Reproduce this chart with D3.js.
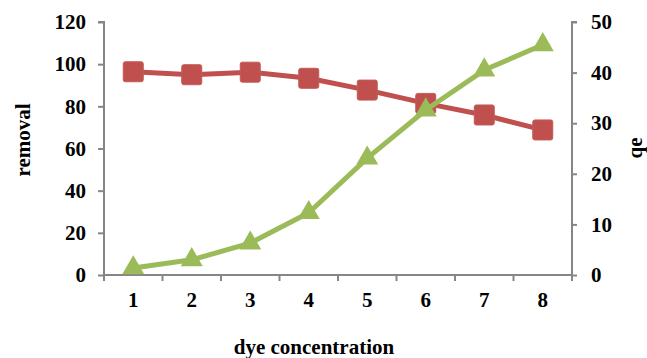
<!DOCTYPE html>
<html>
<head>
<meta charset="utf-8">
<script src="https://cdn.jsdelivr.net/npm/d3@7"></script>
<style>
  html, body { margin: 0; padding: 0; background: #fff; }
  svg { display: block; }
</style>
</head>
<body>
<svg id="chart" width="647" height="358"></svg>
<script>
// Dye concentration categories
const categories = ["1", "2", "3", "4", "5", "6", "7", "8"];
// Removal (%) on the left axis
const removal = [96.4, 95.0, 96.2, 93.3, 87.7, 81.4, 75.9, 68.8];
// qe on the right axis
const qe = [1.4, 3.0, 6.3, 12.3, 23.1, 32.6, 40.5, 45.5];
// Tick values for both value axes
const leftTicks = [0, 20, 40, 60, 80, 100, 120];
const rightTicks = [0, 10, 20, 30, 40, 50];

const svg = d3.select("#chart");
const plot = { left: 104, right: 572, top: 22, bottom: 275 };
const axisColor = "#868686";
const red = "#C0504D";
const green = "#9BBB59";
const serif = '"Liberation Serif", "Times New Roman", Tinos, serif';
const tickFont = 21;
const titleFont = 21;

const x = d3.scaleBand().domain(categories).range([plot.left, plot.right]).padding(0);
const yL = d3.scaleLinear().domain([0, 120]).range([plot.bottom, plot.top]);
const yR = d3.scaleLinear().domain([0, 50]).range([plot.bottom, plot.top]);
const cx = d => x(d) + x.bandwidth() / 2;

// Left axis
const gL = svg.append("g").attr("transform", `translate(${plot.left},0)`)
  .call(d3.axisLeft(yL).tickValues(leftTicks).tickSize(6).tickPadding(12));
// Right axis
const gR = svg.append("g").attr("transform", `translate(${plot.right},0)`)
  .call(d3.axisRight(yR).tickValues(rightTicks).tickSize(5).tickPadding(14));
// Bottom axis: labels centred in each category, ticks on category boundaries
const gB = svg.append("g").attr("transform", `translate(0,${plot.bottom})`)
  .call(d3.axisBottom(x).tickSize(0).tickPadding(17));
const bounds = d3.range(categories.length + 1).map(i => plot.left + i * x.step());
gB.selectAll("line.bound").data(bounds).join("line").attr("class", "bound")
  .attr("x1", d => d).attr("x2", d => d).attr("y1", 0).attr("y2", 6);

[gL, gR, gB].forEach(g => {
  g.attr("font-family", null).attr("font-size", null);
  g.selectAll("path.domain").attr("stroke", axisColor).attr("stroke-width", 2);
  g.selectAll("line").attr("stroke", axisColor).attr("stroke-width", 2);
  g.selectAll("text")
    .style("font-family", serif).style("font-weight", "bold")
    .style("font-size", tickFont + "px").attr("fill", "#000");
});
gL.select("path.domain").attr("d", `M-6,${plot.top}H0V${plot.bottom}`).attr("fill", "none");
gR.select("path.domain").attr("d", `M5,${plot.top}H0V${plot.bottom}`).attr("fill", "none");
gB.select("path.domain").attr("d", `M${plot.left},0H${plot.right}`).attr("fill", "none");

// Series lines
const lineL = d3.line().x((d, i) => cx(categories[i])).y(d => yL(d));
const lineR = d3.line().x((d, i) => cx(categories[i])).y(d => yR(d));

svg.append("path").datum(removal).attr("d", lineL)
  .attr("fill", "none").attr("stroke", red).attr("stroke-width", 5).attr("stroke-linejoin", "round");
svg.selectAll("rect.pt").data(removal).join("rect").attr("class", "pt")
  .attr("x", (d, i) => cx(categories[i]) - 10).attr("y", d => yL(d) - 10)
  .attr("width", 20).attr("height", 20).attr("rx", 2)
  .attr("fill", red).attr("stroke", "#c25a57").attr("stroke-width", 1);

svg.append("path").datum(qe).attr("d", lineR)
  .attr("fill", "none").attr("stroke", green).attr("stroke-width", 5).attr("stroke-linejoin", "round");
const tri = d3.symbol().type(d3.symbolTriangle).size(210);
svg.selectAll("path.tri").data(qe).join("path").attr("class", "tri")
  .attr("transform", (d, i) => `translate(${cx(categories[i])},${yR(d)})`)
  .attr("d", tri).attr("fill", green);

// Axis titles
const title = (sel) => sel.style("font-family", serif).style("font-weight", "bold")
  .style("font-size", titleFont + "px").attr("fill", "#000").attr("text-anchor", "middle");
svg.append("text").attr("transform", "translate(30,140) rotate(-90)").call(title).text("removal");
svg.append("text").attr("transform", "translate(642,148) rotate(-90)").call(title).text("qe");
svg.append("text").attr("x", 314).attr("y", 354).call(title).text("dye concentration");
</script>
</body>
</html>
